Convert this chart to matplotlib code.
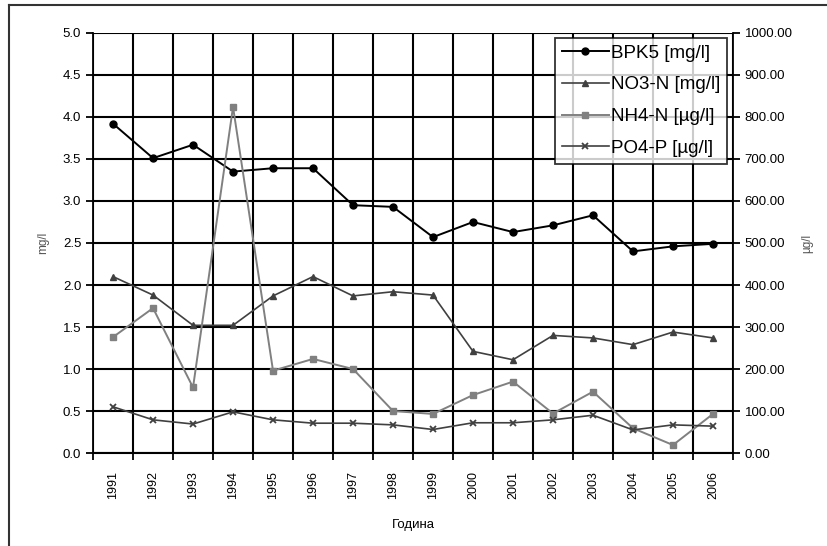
import numpy as np
from matplotlib import pyplot as plt
from matplotlib.lines import Line2D
from matplotlib.ticker import FixedLocator, FormatStrFormatter

years = [str(y) for y in range(1991, 2007)]

# left axis, mg/l
bpk5 = [3.92, 3.51, 3.67, 3.35, 3.39, 3.39, 2.95, 2.93, 2.57, 2.75, 2.63, 2.71, 2.83, 2.40, 2.46, 2.49]
no3_n = [2.10, 1.88, 1.52, 1.52, 1.87, 2.10, 1.87, 1.92, 1.88, 1.21, 1.11, 1.40, 1.37, 1.29, 1.44, 1.37]

# right axis, ug/l
nh4_n = [276, 345, 156, 824, 196, 224, 200, 100, 93, 138, 170, 94, 146, 59, 19, 93]
po4_p = [110, 79, 69, 98, 79, 71, 71, 67, 56, 72, 72, 79, 90, 55, 67, 64]

plt.rcParams['font.family'] = ['Liberation Sans', 'DejaVu Sans']

fig = plt.figure(figsize=(8.27, 5.46), dpi=100)
ax = fig.add_axes([0.1125, 0.1703, 0.7738, 0.7693])
ax2 = ax.twinx()

x = np.arange(len(years))

ax.plot(x, bpk5, color='black', marker='o', ms=5, lw=1.4, label='BPK5 [mg/l]')
ax.plot(x, no3_n, color='#404040', marker='^', ms=5, lw=1.2, label='NO3-N [mg/l]')
ax2.plot(x, nh4_n, color='#808080', marker='s', ms=5, lw=1.4, label='NH4-N [µg/l]')
ax2.plot(x, po4_p, color='#404040', marker='x', ms=5, mew=1.3, lw=1.2, label='PO4-P [µg/l]')

ax.set_xlim(-0.5, len(years) - 0.5)
ax.set_ylim(0, 5)
ax2.set_ylim(0, 1000)
ax.set_yticks(np.arange(0, 5.01, 0.5))
ax.yaxis.set_major_formatter(FormatStrFormatter('%.1f'))
ax2.set_yticks(np.arange(0, 1001, 100))
ax2.yaxis.set_major_formatter(FormatStrFormatter('%.2f'))

ax.set_xticks(x)
ax.set_xticklabels(years, rotation=90, fontsize=9)
ax.xaxis.set_minor_locator(FixedLocator(np.arange(-0.5, len(years), 1)))
ax.tick_params(axis='x', which='major', length=0, pad=13)
ax.tick_params(axis='x', which='minor', length=5, width=1.3, direction='out')
ax.tick_params(axis='y', length=5, width=1.3, labelsize=9.5)
ax2.tick_params(axis='y', length=5, width=1.3, labelsize=9.5)

ax.grid(True, axis='y', color='black', lw=1.5)
ax.grid(True, axis='x', which='minor', color='black', lw=1.5)
ax.set_axisbelow(True)

for a in (ax, ax2):
    for s in a.spines.values():
        s.set_visible(False)
ax.spines['left'].set_visible(True)
ax.spines['left'].set_linewidth(1.3)
ax2.spines['right'].set_visible(True)
ax2.spines['right'].set_linewidth(1.3)
ax.spines['bottom'].set_visible(True)
ax.spines['bottom'].set_linewidth(1.5)

ax.set_xlabel('Година', fontsize=9.5, labelpad=14)
ax.set_ylabel('mg/l', fontsize=8.5, color='#555555', labelpad=10)
ax2.set_ylabel('µg/l', fontsize=8.5, color='#555555', labelpad=6)

h1, l1 = ax.get_legend_handles_labels()
h2, l2 = ax2.get_legend_handles_labels()
leg = ax2.legend(h1 + h2, l1 + l2, loc='upper right', bbox_to_anchor=(0.99, 0.988),
                 fontsize=13.5, frameon=True, fancybox=False, edgecolor='black',
                 handlelength=2.5, handletextpad=0.1, borderpad=0.35, labelspacing=0.78,
                 borderaxespad=0.0)
leg.get_frame().set_linewidth(1.3)

# outer chart frame (left and top only)
fig.add_artist(Line2D([0.0105, 0.0105], [0.0, 0.99], color='#333333', lw=1.5, transform=fig.transFigure))
fig.add_artist(Line2D([0.0105, 1.0], [0.99, 0.99], color='#333333', lw=1.5, transform=fig.transFigure))

fig.savefig('out.png', dpi=100)
